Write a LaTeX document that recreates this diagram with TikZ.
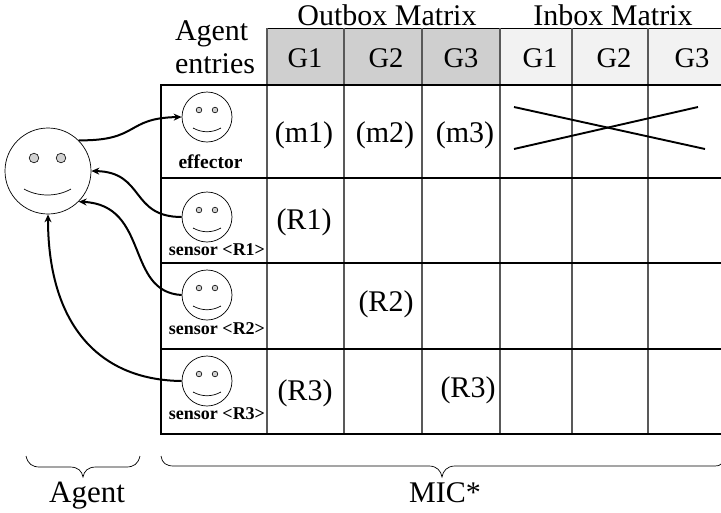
\documentclass[tikz,border=0pt]{standalone}
\usepackage{fontspec}
\setmainfont{Liberation Serif}
\usetikzlibrary{arrows.meta}
\definecolor{outbox}{gray}{0.81}
\definecolor{inbox}{gray}{0.95}
\tikzset{
  x=1pt,y=-1pt,
  thin line/.style={draw=black!65,line width=1.2pt},
  thick line/.style={draw=black,line width=2.4pt},
  smallface/.style={circle,draw,line width=0.7pt,minimum size=50pt,inner sep=0pt},
  bigface/.style={circle,draw,line width=0.7pt,minimum size=86pt,inner sep=0pt},
  eye/.style={draw,fill=black!18,line width=0.6pt},
  mouth/.style={draw,line width=0.7pt},
  link/.style={draw,line width=2pt,-{Stealth[length=8pt,width=7pt]}},
  head/.style={font=\fontsize{28.5}{30}\selectfont,inner sep=0pt},
  cell/.style={font=\fontsize{30}{32}\selectfont,inner sep=0pt},
  role/.style={font=\fontsize{18}{20}\bfseries\selectfont,inner sep=0pt},
  label/.style={font=\fontsize{30}{33}\selectfont,inner sep=0pt},
  brace/.style={draw,line width=0.7pt},
}
\newcommand{\facefeatures}[2]{%
  \draw[eye] (#1-8,#2-8) circle (2.8);
  \draw[eye] (#1+8,#2-8) circle (2.8);
  \draw[mouth] (#1-14,#2+10) .. controls (#1-5,#2+15) and (#1+5,#2+15) .. (#1+14,#2+10);
}
\begin{document}
\begin{tikzpicture}
\useasboundingbox (0,0) rectangle (721,512);
% header fills
\fill[outbox] (267,28) rectangle (500,85);
\fill[inbox] (500,28) rectangle (721,85);
\draw[line width=0.7pt] (267,28) -- (721,28);
% vertical lines
\foreach \x in {267,344,422,500,572,648}
  \draw[thin line] (\x,28) -- (\x,434);
% horizontal lines
\draw[thick line] (161,85) -- (721,85);
\draw[thick line] (161,178) -- (721,178);
\draw[thick line] (161,263) -- (721,263);
\draw[thick line] (161,349) -- (721,349);
\draw[thick line] (161,434) -- (721,434);
\draw[thick line] (161,84) -- (161,435);
% titles
\node[label] (outtitle) at (387,15) {Outbox Matrix};
\node[label] (intitle) at (613,15) {Inbox Matrix};
\node[label,align=left] (entries) at (215,47) {Agent\\entries};
% header cells
\node[head] (og1) at (305,58) {G1};
\node[head] (og2) at (386,58) {G2};
\node[head] (og3) at (461,58) {G3};
\node[head] (ig1) at (540,58) {G1};
\node[head] (ig2) at (614,58) {G2};
\node[head] (ig3) at (692,58) {G3};
% cells
\node[cell] (m1) at (304,135) {(m1)};
\node[cell] (m2) at (385,135) {(m2)};
\node[cell] (m3) at (465,135) {(m3)};
\node[cell] (r1) at (304,222) {(R1)};
\node[cell] (r2) at (386,304) {(R2)};
\node[cell] (r3a) at (305,393) {(R3)};
\node[cell] (r3b) at (468,390) {(R3)};
% cross
\draw[line width=1.9pt] (514,107) -- (705,149);
\draw[line width=1.9pt] (514,149) -- (698,107);
% faces
\node[bigface] (agent) at (48,171) {};
\draw[eye] (34,158) circle (4.8);
\draw[eye] (61,158) circle (4.8);
\draw[mouth] (24,189) .. controls (38,197) and (57,197) .. (71,189);
\node[smallface] (eff) at (207,117) {};
\node[smallface] (s1) at (207,217) {};
\node[smallface] (s2) at (207,295) {};
\node[smallface] (s3) at (207,381) {};
\facefeatures{207}{118}
\facefeatures{207}{218}
\facefeatures{207}{296}
\facefeatures{207}{382}
\node[role,font=\fontsize{19.5}{21}\bfseries\selectfont] (effl) at (210.5,162) {effector};
\node[role] (s1l) at (217,250) {sensor <R1>};
\node[role] (s2l) at (217,329) {sensor <R2>};
\node[role] (s3l) at (217,414) {sensor <R3>};
% connectors
\draw[link] (agent.45) .. controls (140,141) and (125,118) .. (eff.west);
\draw[link] (s1.west) .. controls (130,217) and (145,172) .. (agent.0);
\draw[link] (s2.west) .. controls (125,292) and (150,205) .. (agent.-45);
\draw[link] (s3.west) .. controls (95,380) and (48,320) .. (agent.south);
% braces
\draw[brace] (26,456) .. controls (28,464) and (32,467) .. (40,467) -- (70,467)
  .. controls (78,467) and (82,471) .. (83,477)
  .. controls (84,471) and (88,467) .. (96,467) -- (126,467)
  .. controls (134,467) and (138,464) .. (140,456);
\draw[brace] (161,456) .. controls (162,463) and (166,466) .. (174,466) -- (429,466)
  .. controls (437,466) and (441,471) .. (442,477)
  .. controls (443,471) and (447,466) .. (455,466) -- (715,466)
  .. controls (718,466) and (720,465.5) .. (721,464);
\node[label,font=\fontsize{31}{33}\selectfont,anchor=base] (agentl) at (87,502) {Agent};
\node[label,anchor=base] (micl) at (445,502) {MIC*};
\end{tikzpicture}
\end{document}
